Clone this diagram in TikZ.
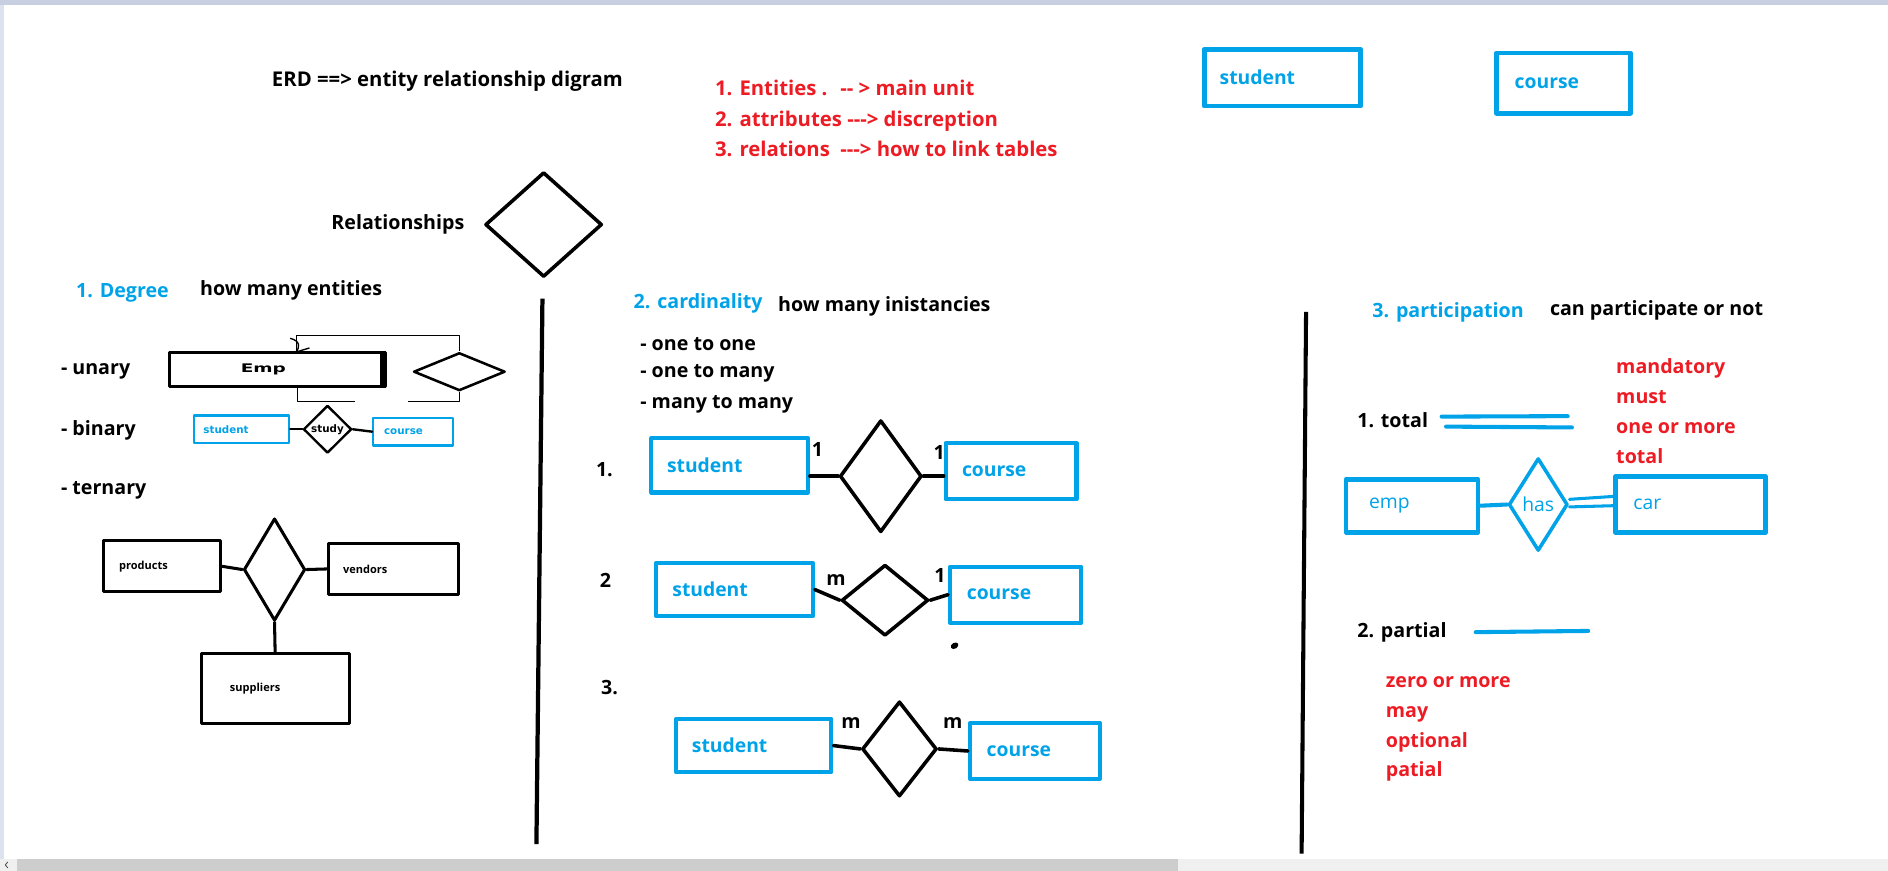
\documentclass[tikz,border=0pt]{standalone}
\usepackage{fontspec}
\usepackage{graphicx}
\newfontfamily\osans{Open Sans}
\newfontfamily\dvsans{DejaVu Sans}
\usepackage{tikz}
\usetikzlibrary{shapes.geometric}
\definecolor{erd-blue}{HTML}{00A2E8}
\definecolor{erd-red}{HTML}{ED1C24}
\definecolor{ui-top}{HTML}{C7CFE0}
\definecolor{ui-side}{HTML}{DDE3EE}
\definecolor{ui-track}{HTML}{F0F0F0}
\definecolor{ui-thumb}{HTML}{CDCDCD}

\begin{document}
\begin{tikzpicture}[x=0.025cm, y=-0.025cm, line join=round,
    txt/.style={anchor=base west, inner sep=0pt, font=\osans\bfseries\fontsize{11.6}{14}\selectfont},
    bigtxt/.style={txt, font=\osans\bfseries\fontsize{12}{14}\selectfont},
    head/.style={txt, text=erd-blue},
    note/.style={txt, text=erd-red},
    ent/.style={draw=erd-blue, line width=2.4pt, text=erd-blue, align=left, inner xsep=0.325cm, inner ysep=0pt,
                font=\osans\bfseries\fontsize{11.4}{14}\selectfont},
    tbl/.style={draw=black, line width=1.8pt, align=left, inner xsep=0.325cm, inner ysep=0pt,
                font=\osans\bfseries\fontsize{6.5}{8}\selectfont},
    rel/.style={diamond, draw=black, line width=2.1pt, inner sep=0pt},
    link/.style={black, line width=2.1pt, line cap=round},
    plink/.style={erd-blue, line width=2.4pt, line cap=round},
  ]
    % Canvas and window frame
    \fill[white] (0,0) rectangle (1568,723);
    \useasboundingbox (0,0) rectangle (1568,723);
    \fill[ui-top] (0,0) rectangle (1568,4);
    \fill[ui-side] (0,4) rectangle (3.7,713.4);
    \fill[ui-track] (0,713.4) rectangle (1568,723);
    \fill[ui-thumb] (14,713.4) rectangle (978,723);
    \draw[black!70, line width=0.5pt] (6.5,715.8) -- (4.4,718.3) -- (6.5,720.8);

    % Title and definitions
    \node[bigtxt] (title) at (225.6,72) {ERD ==> entity relationship digram};
    \node[bigtxt, text=erd-red] (defEnt) at (593.6,79.7) {\makebox[2.6cm][l]{1. Entities .}-- > main unit};
    \node[bigtxt, text=erd-red] (defAtt) at (593.6,105.2) {2. attributes ---> discreption};
    \node[bigtxt, text=erd-red] (defRel) at (593.6,130.1) {\makebox[2.6cm][l]{3. relations}---> how to link tables};

    % Entity samples (top right)
    \node[ent, line width=2.9pt, text width=2.6cm, minimum height=1.175cm] (topStudent) at (1065,64.5) {student};
    \node[ent, line width=2.9pt, inner xsep=0.375cm, text width=2.025cm, minimum height=1.25cm] (topCourse) at (1298.5,69) {course};

    % Relationship sample
    \node[txt] (relText) at (275,191) {Relationships};
    \node[rel, minimum width=2.425cm, minimum height=2.175cm] (relShape) at (451.5,186.5) {};

    % ==========================================
    % 1. DEGREE
    % ==========================================
    \node[head] (degHead) at (63,247) {1. Degree};
    \node[txt] (degNote) at (166,245) {how many entities};
    \node[txt] (unaryT) at (50.4,311.4) {- unary};
    \node[txt] (binaryT) at (50.4,361.3) {- binary};
    \node[txt] (ternaryT) at (50.4,411) {- ternary};

    % Unary
    \node[draw, line width=1.6pt, align=left, inner xsep=1.475cm, inner ysep=0pt, text width=1.525cm, minimum height=0.7cm,
          font=\dvsans\bfseries\fontsize{7}{8}\selectfont] (emp) at (230.5,307) {\scalebox{1.56}[1]{Emp}};
    \draw[line width=3.5pt] ([xshift=-2.1pt]emp.north east) -- ([xshift=-2.1pt]emp.south east);
    \node[rel, line width=1.5pt, minimum width=1.9cm, minimum height=0.7875cm] (unaryRel) at (381.5,308.7) {};
    \coordinate (unaryGapL) at (294.5,333.6);
    \coordinate (unaryGapR) at (339,333.6);
    \draw[line width=0.8pt] ([xshift=0.39cm]emp.north) |- ([yshift=0.335cm]unaryRel.north) -- (unaryRel.north);
    \draw[line width=0.8pt] (241,281) .. controls (249,283) and (250,288) .. (245,293) (247,292) -- (257,289);
    \draw[line width=0.8pt] ([xshift=0.4125cm]emp.south) |- (unaryGapL);
    \draw[line width=0.8pt] (unaryGapR) -| (unaryRel.south);

    % Binary
    \node[ent, line width=1.4pt, inner xsep=0.2cm, text width=1.575cm, minimum height=0.575cm,
          font=\dvsans\bfseries\fontsize{6.1}{7}\selectfont] (binStudent) at (200.5,356.5) {student};
    \node[rel, line width=1.4pt, minimum width=1cm, minimum height=0.99cm,
          font=\dvsans\bfseries\fontsize{6.1}{7}\selectfont] (binStudy) at (272,356.5) {study};
    \node[ent, line width=1.4pt, inner xsep=0.225cm, text width=1.2cm, minimum height=0.575cm,
          font=\dvsans\bfseries\fontsize{6.1}{7}\selectfont] (binCourse) at (343,358.5) {course};
    \draw[link, line width=1.4pt] (binStudent.east) -- (binStudy.west);
    \draw[link, line width=1.4pt] (binStudy.east) -- (binCourse.west);

    % Ternary
    \node[tbl, text width=1.775cm, minimum height=1.065cm] (products) at (134.5,470.3) {products};
    \node[rel, line width=1.8pt, minimum width=1.275cm, minimum height=2.125cm] (ternRel) at (228,473) {};
    \node[tbl, inner xsep=0.3cm, text width=2.1cm, minimum height=1.075cm] (vendors) at (327,472.5) {vendors};
    \node[tbl, inner xsep=0.6cm, text width=1.875cm, minimum height=1.45cm] (suppliers) at (228.5,572) {suppliers};
    \draw[link, line width=1.8pt] (products.east) -- (ternRel.west);
    \draw[link, line width=1.8pt] (ternRel.east) -- (vendors.west);
    \draw[link, line width=1.8pt] (ternRel.south) -- (suppliers.north);

    % Dividers
    \draw[line width=2.5pt] (450.5,248) -- (445.5,701);
    \draw[line width=2.4pt] (1084.7,259) -- (1081,709);

    % ==========================================
    % 2. CARDINALITY
    % ==========================================
    \node[head] (cardHead) at (526,256) {2. cardinality};
    \node[txt] (cardNote) at (646,259) {how many inistancies};
    \node[txt] (oneOne) at (531.5,291) {- one to one};
    \node[txt] (oneMany) at (531.5,313.4) {- one to many};
    \node[txt] (manyMany) at (531.5,339.1) {- many to many};
    \node[txt] (rowOne) at (494.7,395.7) {1.};
    \node[txt] (rowTwo) at (498,488.3) {2};
    \node[txt] (rowThree) at (499,577) {3.};

    % one to one
    \node[ent, text width=2.6cm, minimum height=1.125cm] (stuOne) at (606,386.5) {student};
    \node[rel, minimum width=1.7cm, minimum height=2.325cm] (relOne) at (731.5,395.5) {};
    \node[ent, inner xsep=0.34cm, text width=2.035cm, minimum height=1.17cm] (couOne) at (839.7,391.4) {course};
    \draw[link] (stuOne.east |- relOne.west) -- (relOne.west);
    \draw[link] (relOne.east) -- (relOne.east -| couOne.west);
    \node[txt] (cardOneL) at (674,379.3) {1};
    \node[txt] (cardOneR) at (775,381.5) {1};

    % many to one
    \node[ent, inner xsep=0.3375cm, text width=2.575cm, minimum height=1.1cm] (stuTwo) at (610,489.6) {student};
    \node[rel, minimum width=1.8cm, minimum height=1.475cm] (relTwo) at (735,498.5) {};
    \node[ent, inner xsep=0.35cm, text width=2.025cm, minimum height=1.16cm] (couTwo) at (843.5,493.9) {course};
    \draw[link] (stuTwo.east) -- (relTwo.west);
    \draw[link] (relTwo.east) -- (couTwo.west);
    \node[txt] (cardTwoL) at (686,486.3) {m};
    \node[txt] (cardTwoR) at (775.7,484) {1};
    \fill[rotate around={30:(792.8,536.3)}] (792.8,536.3) ellipse (0.085cm and 0.06cm);

    % many to many
    \node[ent, inner xsep=0.33cm, text width=2.565cm, minimum height=1.11cm] (stuThree) at (626,619.2) {student};
    \node[rel, minimum width=1.55cm, minimum height=1.975cm] (relThree) at (747,622) {};
    \node[ent, inner xsep=0.35cm, text width=2.0cm, minimum height=1.15cm] (couThree) at (859.5,623.7) {course};
    \draw[link] (stuThree.east) -- (relThree.west);
    \draw[link] (relThree.east) -- (couThree.west);
    \node[txt] (cardThreeL) at (698.5,605) {m};
    \node[txt] (cardThreeR) at (783,605) {m};

    % ==========================================
    % 3. PARTICIPATION
    % ==========================================
    \node[head] (partHead) at (1139.5,263.8) {3. participation};
    \node[txt] (partNote) at (1287,262.3) {can participate or not};
    \node[note] (mandT) at (1342,310) {mandatory};
    \node[note] (mustT) at (1342,335) {must};
    \node[note] (oneMoreT) at (1342,360) {one or more};
    \node[note] (totalN) at (1342,384.8) {total};
    \node[txt] (totalT) at (1127,355) {1. total};
    \draw[plink] (1197.3,346) -- (1302,345.6);
    \draw[plink] (1201,354.3) -- (1305.5,355);

    \node[ent, line width=2.75pt, inner xsep=0.475cm, text width=1.785cm, minimum height=1.1cm,
          font=\osans\fontsize{11.4}{14}\selectfont] (pEmp) at (1172.7,420) {emp};
    \node[rel, draw=erd-blue, text=erd-blue, line width=2.1pt, minimum width=1.225cm, minimum height=1.925cm,
          font=\osans\fontsize{11.4}{14}\selectfont] (pHas) at (1277.5,419) {has};
    \node[ent, line width=2.75pt, inner xsep=0.375cm, text width=2.375cm, minimum height=1.15cm,
          font=\osans\fontsize{11.4}{14}\selectfont] (pCar) at (1404,419) {car};
    \draw[plink] (pEmp.east) -- (pHas.west);
    \draw[plink, line width=1.8pt] ([yshift=0.1075cm]pHas.east) -- ([yshift=0.1675cm]pCar.west);
    \draw[plink, line width=1.8pt] ([yshift=-0.05cm]pHas.east) -- ([yshift=-0.025cm]pCar.west);

    \node[txt] (partialT) at (1127,529.4) {2. partial};
    \draw[plink] (1225.6,525) -- (1319,524);
    \node[note] (zeroT) at (1150.7,570.7) {zero or more};
    \node[note] (mayT) at (1150.7,595.7) {may};
    \node[note] (optT) at (1150.7,620.7) {optional};
    \node[note] (patT) at (1150.7,645.1) {patial};
\end{tikzpicture}
\end{document}
